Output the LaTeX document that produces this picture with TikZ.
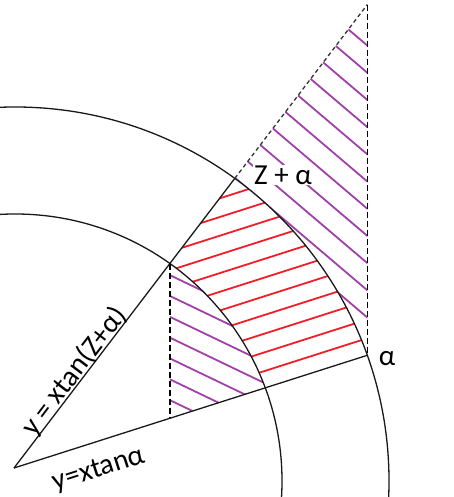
\documentclass[tikz,border=0pt]{standalone}
\usepackage{fontspec}
\setmainfont{Carlito}
\definecolor{hatchred}{RGB}{240,30,40}
\definecolor{hatchpurple}{RGB}{160,64,168}
\begin{document}
\begin{tikzpicture}[x=1pt,y=1pt,
  axis/.style={line width=1.3pt, black!90},
  dashvert/.style={line width=1.6pt, black, dash pattern=on 6pt off 3pt},
  dashdiag/.style={line width=1.3pt, black!80, dash pattern=on 4pt off 3pt},
  redhatch/.style={line width=1.8pt, hatchred},
  purphatch/.style={line width=1.8pt, hatchpurple},
  lbl/.style={font=\fontsize{29}{32}\selectfont, inner sep=1pt}]
\useasboundingbox (0,0) rectangle (453,497);
\coordinate (O) at (14,29);
\coordinate (C) at (15,16);
\coordinate (A1) at (265.2,109.2);
\coordinate (B1) at (367.3,141.7);
\coordinate (B2) at (234.8,318.6);
\coordinate (A2) at (169.9,233.4);
\coordinate (D) at (169.9,78.7);
\coordinate (T) at (367.3,492.4);
% red hatching (annular sector)
\begin{scope}
  \clip (A1) -- (B1) arc[start angle=19.64, end angle=54.0, radius=374] -- (A2)
        arc[start angle=54.53, end angle=20.43, radius=267] -- cycle;
  \foreach \k in {0,...,10} {
    \pgfmathsetmacro\dd{17+18.7*\k}
    \draw[redhatch] (150,{72.4+\dd}) -- (400,{152.2+\dd});
  }
\end{scope}
% purple hatching, left region
\begin{scope}
  \clip (D) -- (A1) arc[start angle=20.43, end angle=54.53, radius=267] -- cycle;
  \foreach \yy in {221,200.2,179.3,158.5,137.7,116.8,96} {
    \draw[purphatch] (160,{\yy+5.6}) -- (300,{\yy-61.6});
  }
\end{scope}
% purple hatching, right region
\begin{scope}
  \clip (B2) -- (T) -- (B1) arc[start angle=19.64, end angle=54.0, radius=374] -- cycle;
  \foreach \k in {0,...,10} {
    \pgfmathsetmacro\yy{452-27.2*\k}
    \draw[purphatch] (220,{\yy+124.7}) -- (380,{\yy-11.3});
  }
\end{scope}
\node[lbl, fill=white] (za) at (283,322) {Z + α};
% arcs
\begin{scope}
  \clip (0,0) rectangle (453,497);
  \draw[axis] (C) circle[radius=267];
  \draw[axis] (C) circle[radius=374];
\end{scope}
% lines
\draw[axis] (O) -- (B1);
\draw[axis] (O) -- (B2);
\draw[dashdiag] (B2) -- (T);
\draw[dashvert] (T) -- (B1);
\draw[dashvert] (A2) -- (D);
% labels
\node[lbl, rotate=52.7] (l1) at (74.2,125.3) {y = xtan(Z+α)};
\node[lbl, rotate=17.7] (l2) at (99,27) {y=xtanα};
\node[lbl] (l3) at (387,138.7) {α};
\end{tikzpicture}
\end{document}
